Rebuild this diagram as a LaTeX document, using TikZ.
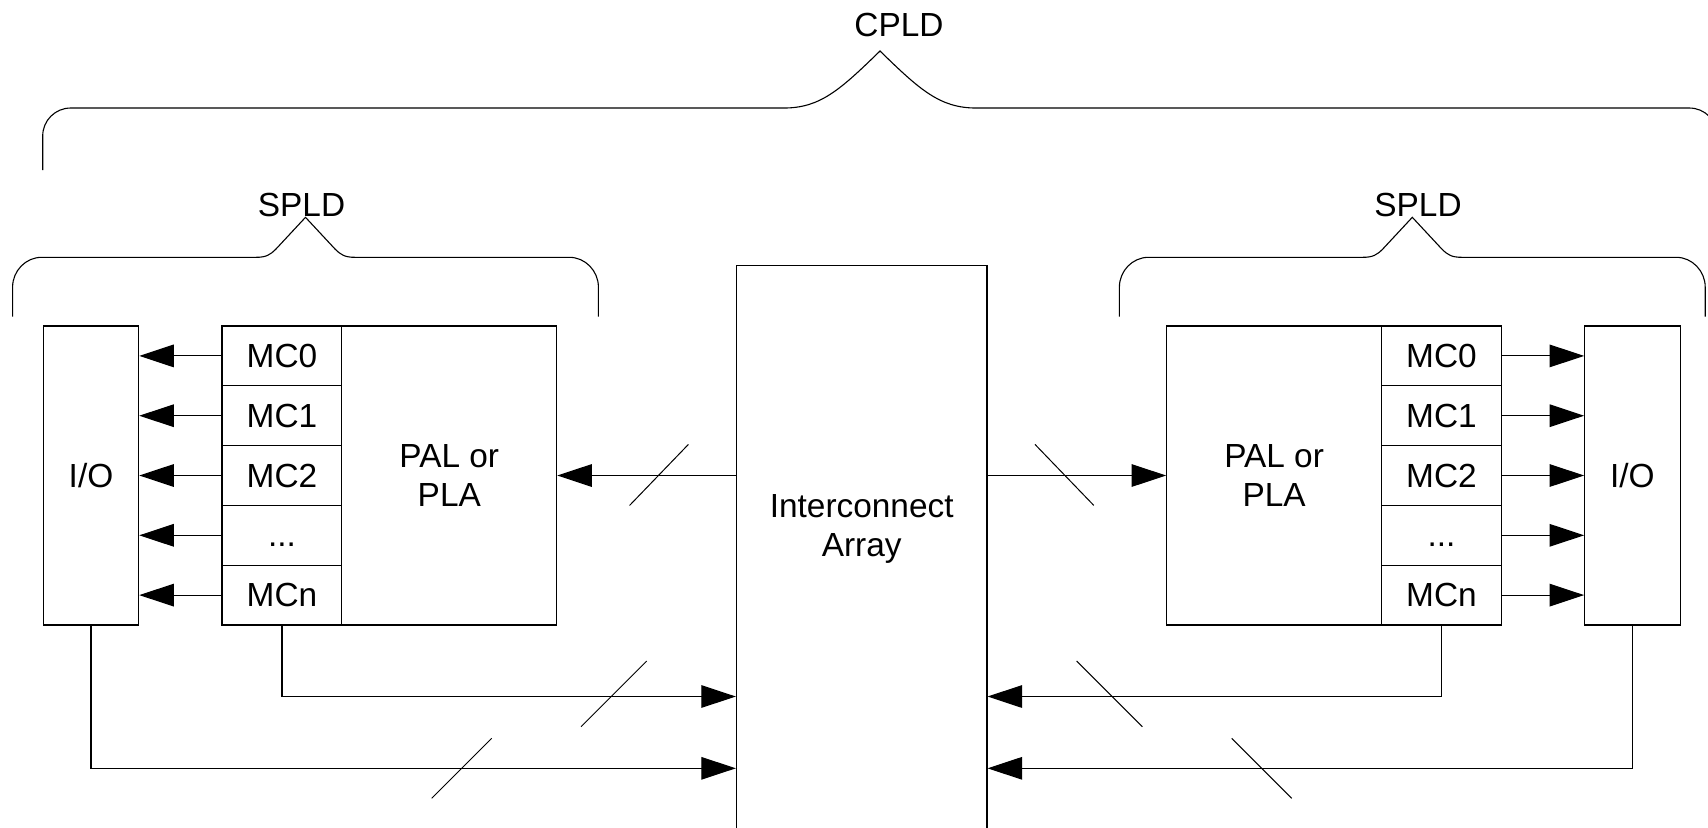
\documentclass[tikz,border=0pt]{standalone}
\usepackage{fontspec}
\setmainfont{Liberation Sans}
\usetikzlibrary{arrows.meta,fit}
\tikzset{
  box/.style={draw, line width=0.55pt, inner sep=0pt, rectangle, align=center, font=\fontsize{16.7pt}{19.9pt}\selectfont},
  iobox/.style={box, minimum width=47.7pt, minimum height=149.5pt},
  palbox/.style={box, minimum width=107.4pt, minimum height=149.5pt},
  mcbox/.style={box, minimum width=59.95pt, minimum height=29.9pt},
  lbl/.style={inner sep=0pt, align=center, font=\fontsize{16.7pt}{19.9pt}\selectfont},
  conn/.style={line width=0.55pt, -{Triangle[length=17.3pt,width=11.3pt]}},
  bracepath/.style={line width=0.55pt},
  slash/.style={line width=0.5pt},
  spldbrace/.pic={\draw[bracepath] (-292.9,59.4) -- (-292.9,29.7) .. controls (-292.9,13.7) and (-279.9,0) .. (-263.9,0) -- (-49.5,0) .. controls (-39.5,0) and (-35.5,-2.3) .. (-29.5,-8.3) -- (0,-40) -- (29.5,-8.3) .. controls (35.5,-2.3) and (39.5,0) .. (49.5,0) -- (263.9,0) .. controls (279.9,0) and (292.9,13.7) .. (292.9,29.7) -- (292.9,59.4);}
}
\begin{document}
\begin{tikzpicture}[x=0.5pt,y=-0.5pt]
\path[use as bounding box, clip] (0,0) rectangle (1708,827);

% CPLD brace
\draw[bracepath] (42.7,170) -- (42.7,136) .. controls (42.7,120.5) and (55.2,108) .. (70.7,108) -- (784,108) .. controls (820,108) and (840,90) .. (880,51) .. controls (920,90) and (940,108) .. (976,108) -- (1689.3,108) .. controls (1704.8,108) and (1717.3,120.5) .. (1717.3,136) -- (1717.3,170);
\node[lbl] (cpld) at (899,25) {CPLD};

% SPLD braces
\pic at (305.5,257.3) {spldbrace};
\pic at (1412.3,257.3) {spldbrace};
\node[lbl] (spldl) at (301.5,205) {SPLD};
\node[lbl] (spldr) at (1418,205) {SPLD};

% Left SPLD
\node[iobox] (iol) at (91,475.5) {I/O};
\node[palbox] (lpal) at (449.3,475.5) {PAL or\\PLA};
\node[mcbox] (lmc0) at (281.95,355.9) {MC0};
\node[mcbox] (lmc1) at (281.95,415.7) {MC1};
\node[mcbox] (lmc2) at (281.95,475.5) {MC2};
\node[mcbox] (lmcd) at (281.95,535.3) {\vphantom{M}...};
\node[mcbox] (lmcn) at (281.95,595.1) {MCn};

% Right SPLD
\node[iobox] (ior) at (1632.4,475.5) {I/O};
\node[palbox] (rpal) at (1274.1,475.5) {PAL or\\PLA};
\node[mcbox] (rmc0) at (1441.45,355.9) {MC0};
\node[mcbox] (rmc1) at (1441.45,415.7) {MC1};
\node[mcbox] (rmc2) at (1441.45,475.5) {MC2};
\node[mcbox] (rmcd) at (1441.45,535.3) {\vphantom{M}...};
\node[mcbox] (rmcn) at (1441.45,595.1) {MCn};

% Interconnect array
\node[box, fit={(736.4,265.8) (987,900)}] (ia) {};
\node[lbl] (iatext) at (861.7,529) {Interconnect\\Array};

% MC -> I/O
\foreach \r in {0,1,2,d,n}{
  \draw[conn] (lmc\r.west) -- (iol.east |- lmc\r.west);
  \draw[conn] (rmc\r.east) -- (ior.west |- rmc\r.east);
}

% Interconnect -> PAL
\draw[conn] (ia.west |- lpal.east) -- (lpal.east);
\draw[conn] (ia.east |- rpal.west) -- (rpal.west);

% feedback to interconnect
\coordinate (yb1) at (0,696.5);
\coordinate (yb2) at (0,768.3);
\draw[conn] (lmcn.south) |- (ia.west |- yb1);
\draw[conn] (iol.south) |- (ia.west |- yb2);
\draw[conn] (rmcn.south) |- (ia.east |- yb1);
\draw[conn] (ior.south) |- (ia.east |- yb2);

% bus slashes
\draw[slash] (629.6,505.4) -- (688.4,444.4);
\draw[slash] (1035,444.4) -- (1093.8,505.4);
\draw[slash] (581,726.7) -- (646.7,661);
\draw[slash] (431.7,798.3) -- (491.7,738.3);
\draw[slash] (1076.7,661) -- (1142.4,726.7);
\draw[slash] (1231.7,738.3) -- (1291.7,798.3);
\end{tikzpicture}
\end{document}
